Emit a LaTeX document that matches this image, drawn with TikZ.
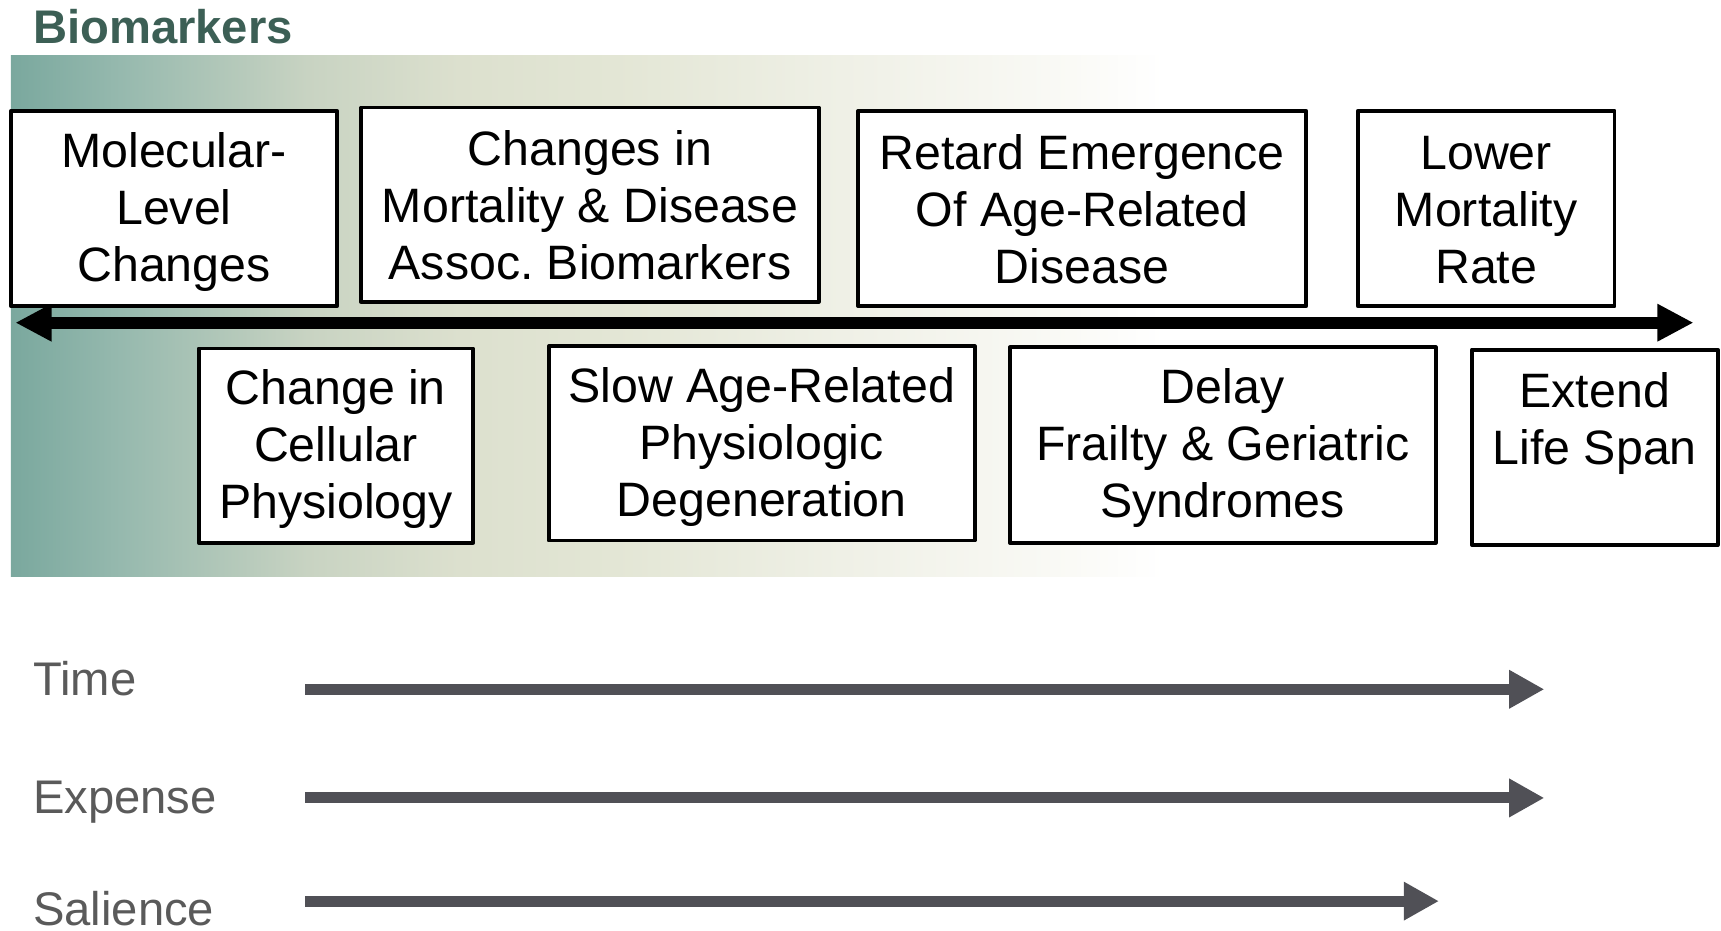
\documentclass[tikz,border=0pt]{standalone}
\usepackage{fontspec}
\setmainfont{Liberation Sans}
\usetikzlibrary{arrows.meta}

\definecolor{titlegreen}{HTML}{3C5F55}
\definecolor{axisgray}{HTML}{505056}
\definecolor{labelgray}{HTML}{5A5A5A}
\definecolor{g0}{HTML}{7AA89E}
\definecolor{g1}{HTML}{96B9AE}
\definecolor{g2}{HTML}{C8D3C2}
\definecolor{g3}{HTML}{DCE0CE}
\definecolor{g4}{HTML}{E3E6D5}
\definecolor{g5}{HTML}{EFF0E6}
\definecolor{g6}{HTML}{FAFAF6}

% teal-to-white band behind the boxes
\pgfdeclarehorizontalshading{biofade}{100bp}{%
  color(0bp)=(g0); color(25bp)=(g0); color(29.76bp)=(g1);
  color(37.86bp)=(g2); color(44.43bp)=(g3); color(51.1bp)=(g4);
  color(61.05bp)=(g5); color(71bp)=(g6); color(75bp)=(white);
  color(100bp)=(white)}

% every text line gets the same height and depth
\newcommand\linestrut{\rule[-6pt]{0pt}{44pt}}

\tikzset{
  stage/.style={draw=black, line width=3.5pt, fill=white, inner sep=0pt,
    outer sep=0pt, align=center, line join=round,
    font=\fontsize{44}{52}\selectfont},
  mainaxis/.style={line width=11pt,
    {Triangle[length=33pt,width=32pt]}-{Triangle[length=33pt,width=32pt]}},
  scaleaxis/.style={draw=axisgray, line width=10pt,
    -{Triangle[length=32pt,width=33pt]}},
  scalelabel/.style={text=labelgray, anchor=base west, inner sep=0pt,
    font=\fontsize{43}{50}\selectfont},
}

\begin{document}
\begin{tikzpicture}[x=1pt, y=-1pt]
\useasboundingbox (0,0) rectangle (1568,848);

\node[anchor=base west, inner sep=0pt, text=titlegreen,
  font=\fontsize{43}{50}\selectfont\bfseries] (title) at (30,40) {Biomarkers};

\shade[shading=biofade] (10,51) rectangle (1060,525);

% the long two-headed axis
\coordinate (axL) at (14,294);
\coordinate (axR) at (1543,294);
\draw[mainaxis] (axL) -- (axR);

% upper row
\node[stage, minimum width=297pt, minimum height=178pt] (mol) at (158.5,190)
  {\linestrut Molecular-\\\linestrut Level\\\linestrut Changes};
\node[stage, minimum width=417pt, minimum height=177pt] (mort) at (537.5,186.5)
  {\linestrut Changes in\\\linestrut Mortality \& Disease\\\linestrut Assoc.\ Biomarkers};
\node[stage, minimum width=408pt, minimum height=178pt] (retard) at (986,190)
  {\linestrut Retard Emergence\\\linestrut Of Age-Related\\\linestrut Disease};
\node[stage, minimum width=234pt, minimum height=178pt] (lower) at (1354,190)
  {\linestrut Lower\\\linestrut Mortality\\\linestrut Rate};

% lower row
\node[stage, minimum width=250pt, minimum height=177pt] (cell) at (306,406)
  {\linestrut Change in\\\linestrut Cellular\\\linestrut Physiology};
\node[stage, minimum width=388pt, minimum height=177pt] (slow) at (694,404)
  {\linestrut Slow Age-Related\\\linestrut Physiologic\\\linestrut Degeneration};
\node[stage, minimum width=388pt, minimum height=178pt] (delay) at (1114,405.5)
  {\linestrut Delay\\\linestrut Frailty \& Geriatric\\\linestrut Syndromes};
\node[stage, minimum width=224pt, minimum height=178pt] (extend) at (1453,407.5)
  {\linestrut Extend\\\linestrut Life Span\\\linestrut};

% scales below
\node[scalelabel] (time) at (30,634) {Time};
\node[scalelabel] (expense) at (30,741) {Expense};
\node[scalelabel] (salience) at (30,843) {Salience};

\coordinate (timeS) at (278,628);
\coordinate (timeE) at (1407,628);
\coordinate (expS) at (278,727);
\coordinate (expE) at (1407,727);
\coordinate (salS) at (278,821);
\coordinate (salE) at (1311,821);
\draw[scaleaxis] (timeS) -- (timeE);
\draw[scaleaxis] (expS) -- (expE);
\draw[scaleaxis] (salS) -- (salE);
\end{tikzpicture}
\end{document}
